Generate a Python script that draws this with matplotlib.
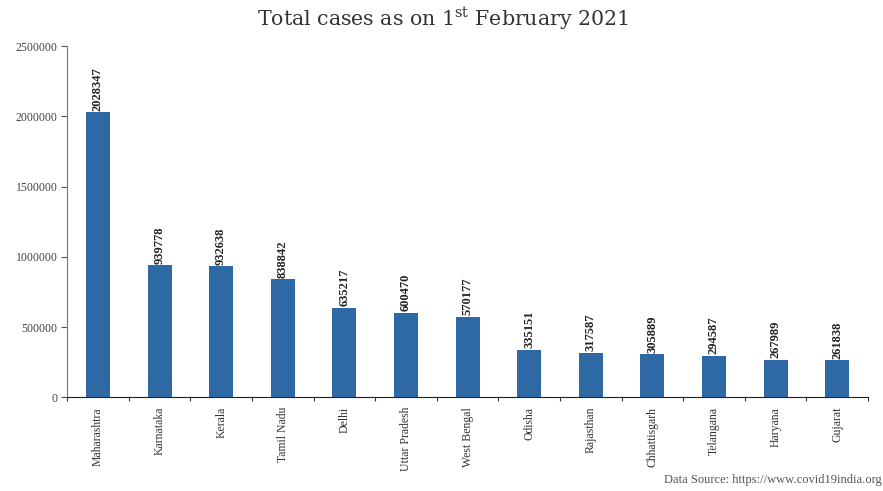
import matplotlib
matplotlib.use('Agg')
import matplotlib.pyplot as plt
import matplotlib.ticker as mticker

BLUE = '#2E69A6'
GRAY = '#555555'

states = ['Maharashtra', 'Karnataka', 'Kerala', 'Tamil Nadu', 'Delhi',
          'Uttar Pradesh', 'West Bengal', 'Odisha', 'Rajasthan',
          'Chhattisgarh', 'Telangana', 'Haryana', 'Gujarat']
cases = [2028347, 939778, 932638, 838842, 635217, 600470, 570177,
         335151, 317587, 305889, 294587, 267989, 261838]
yticks = [0, 500000, 1000000, 1500000, 2000000, 2500000]

plt.rcParams['font.family'] = ['Liberation Serif', 'DejaVu Serif']
plt.rcParams['mathtext.fontset'] = 'dejavuserif'

fig = plt.figure(figsize=(8.83, 4.91), dpi=100)
ax = fig.add_axes([0.076, 0.191, 0.907, 0.715])

x = list(range(len(states)))
bars = ax.bar(x, cases, width=0.39, color=BLUE, zorder=2)

for bar, v in zip(bars, cases):
    ax.text(bar.get_x() + bar.get_width() / 2, v + 12000, str(v),
            rotation=90, ha='center', va='bottom', fontsize=9,
            fontweight='bold', color='#222222')

ax.set_xlim(-0.5, len(states) - 0.5)
ax.set_ylim(0, 2500000)
ax.set_yticks(yticks)
ax.yaxis.set_major_formatter(mticker.FuncFormatter(lambda v, _p: f'{v:.0f}'))
ax.tick_params(axis='y', labelsize=8.5, colors=GRAY, length=4, pad=3,
               labelcolor='#444444')

# category labels centred, tick marks on the boundaries between bars
ax.set_xticks([i + 0.5 for i in x[:-1]] + [-0.5, len(states) - 0.5])
ax.set_xticklabels([])
ax.set_xticks(x, minor=True)
ax.set_xticklabels(states, minor=True, rotation=90, fontsize=8.5,
                   color='#333333')
ax.tick_params(axis='x', which='minor', length=0, pad=7)
ax.tick_params(axis='x', which='major', length=3, colors='#333333')

ax.spines['top'].set_visible(False)
ax.spines['right'].set_visible(False)
ax.spines['left'].set_color('#777777')
ax.spines['bottom'].set_color('#222222')

fig.text(0.502, 0.962, 'Total cases as on 1$^{\\mathrm{st}}$ February 2021',
         ha='center', va='center', fontsize=14.8, color='#333333',
         family='DejaVu Serif')
fig.text(0.999, 0.023, 'Data Source: https://www.covid19india.org',
         ha='right', va='center', fontsize=9, color='#555555')

fig.savefig('out.png', dpi=100, facecolor='white')
